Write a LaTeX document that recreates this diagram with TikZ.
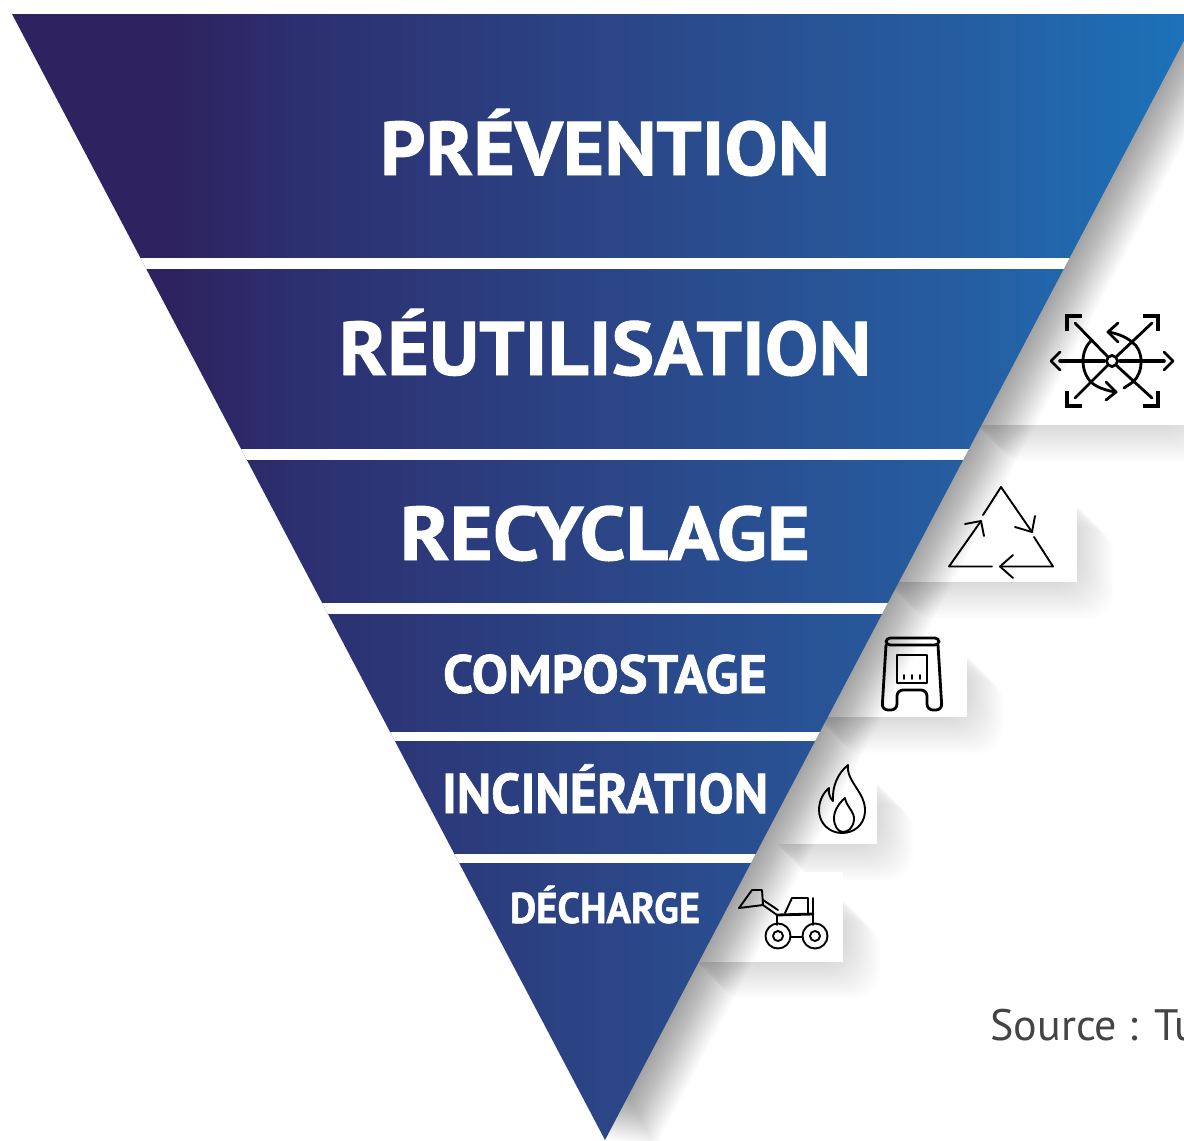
\documentclass[tikz,border=0pt]{standalone}
\usepackage{fontspec}
\usepackage{graphicx}
\setmainfont{PT Sans}
\definecolor{srcgray}{HTML}{444444}
\definecolor{c0}{HTML}{2E2360}
\definecolor{c1}{HTML}{2C2F70}
\definecolor{c2}{HTML}{2B4586}
\definecolor{c3}{HTML}{255FA3}
\definecolor{c4}{HTML}{1B73BA}
\pgfdeclarehorizontalshading{triband}{100bp}{
  color(0bp)=(c0); color(25bp)=(c0); color(32bp)=(c0); color(37bp)=(c1); color(50bp)=(c2); color(66bp)=(c3); color(75bp)=(c4); color(100bp)=(c4)}
\tikzset{
  x=0.5pt,y=-0.5pt,
  icon/.style={draw=black,line width=0.95pt,line join=round,line cap=round,fill=none},
  iconthick/.style={icon,line width=1.4pt},
  bracket/.style={draw=black,line width=1.9pt,line cap=butt,miter limit=10},
  label/.style={anchor=base,text=white,inner sep=0pt,outer sep=0pt,font=\bfseries},
  card/.style={fill=white,draw=none},
  cardshade/.style={fill=black,opacity=0.008,rounded corners=14pt},
}
\newcommand{\lbl}[5]{\node[label] (#1) at (605,#2) {\resizebox{#3pt}{\height}{\fontsize{#4}{#4}\selectfont\addfontfeature{FakeBold=1.2}#5}};}
\begin{document}
\begin{tikzpicture}
\path[use as bounding box] (0,0) rectangle (1184,1141);
\clip (0,0) rectangle (1184,1141);
\fill[white] (0,0) rectangle (1184,1141);
% card shadows
\foreach \d in {1,3,...,37}{
  \fill[cardshade] ([shift={(\d,\d)}]960,310) rectangle ([shift={(\d,\d)}]1184,425);
  \fill[cardshade] ([shift={(\d,\d)}]870,490) rectangle ([shift={(\d,\d)}]1077,582);
  \fill[cardshade] ([shift={(\d,\d)}]800,640) rectangle ([shift={(\d,\d)}]967,717);
  \fill[cardshade] ([shift={(\d,\d)}]760,767) rectangle ([shift={(\d,\d)}]877,844);
  \fill[cardshade] ([shift={(\d,\d)}]680,884) rectangle ([shift={(\d,\d)}]843,962);
}
% cards
\fill[card] (960,298) rectangle (1184,425);
\fill[card] (870,477) rectangle (1077,582);
\fill[card] (800,628) rectangle (967,717);
\fill[card] (760,755) rectangle (877,844);
\fill[card] (680,872) rectangle (843,962);
% triangle shadow
\foreach \d in {2,4,...,50}{
  \fill[black,opacity=0.014] ([shift={(\d,0.15*\d)}]12,14) -- ([shift={(\d,0.15*\d)}]1198,14) -- ([shift={(\d,0.15*\d)}]605,1140) -- cycle;
}
% triangle with bands
\begin{scope}
\clip (12,14) -- (1198,14) -- (605,1140) -- cycle;
\shade[shading=triband] (12,14) rectangle (1198,1141);
\fill[white] (0,258) rectangle (1184,269);
\fill[white] (0,449) rectangle (1184,460);
\fill[white] (0,603) rectangle (1184,614);
\fill[white] (0,732) rectangle (1184,741);
\fill[white] (0,854) rectangle (1184,863);
\end{scope}
% labels
\lbl{prev}{175}{225}{38}{PRÉVENTION}
\lbl{reut}{375}{266}{38}{RÉUTILISATION}
\lbl{recy}{560}{205}{38}{RECYCLAGE}
\lbl{comp}{693}{162}{27}{COMPOSTAGE}
\lbl{inci}{813}{163}{28}{INCINÉRATION}
\lbl{dech}{923}{95}{21.5}{DÉCHARGE}
% source
\node[anchor=base west,inner sep=0pt,text=srcgray,font=\fontsize{22}{23}\selectfont] (src) at (990,1040) {Source : Tu};
% icon reutilisation
\draw[iconthick,line width=1.8pt] (1060,361) -- (1104,361) (1120,361) -- (1164,361);
\draw[iconthick] (1060,352) -- (1051,361) -- (1060,370);
\draw[iconthick] (1164,352) -- (1173,361) -- (1164,370);
\draw[iconthick] (1075,323) -- (1107,356) (1117,366) -- (1152,398);
\draw[iconthick] (1152,323) -- (1117,356) (1107,366) -- (1075,398);
\draw[iconthick] (1112,361) circle (5.5);
\draw[iconthick] (1092,340) .. controls (1080,350) and (1080,372) .. (1092,383);
\draw[iconthick] (1132,342) .. controls (1144,350) and (1144,372) .. (1133,382);
\draw[iconthick] (1108,332) .. controls (1115,333) and (1125,336) .. (1132,342);
\draw[iconthick] (1118,323) -- (1108,332) -- (1118,342);
\draw[iconthick] (1092,383) .. controls (1098,388) and (1108,391) .. (1116,392);
\draw[iconthick] (1106,382) -- (1116,392) -- (1106,400);
\draw[iconthick] (1124,388) -- (1133,382);
\draw[bracket] (1067,331) -- (1067,316) -- (1082,316);
\draw[bracket] (1143,316) -- (1158,316) -- (1158,331);
\draw[bracket] (1067,391) -- (1067,406) -- (1082,406);
\draw[bracket] (1143,406) -- (1158,406) -- (1158,391);
% icon recyclage
\draw[icon] (983,515) -- (1001,487) -- (1032,532);
\draw[icon] (1015,527) -- (1032,532) -- (1035,516);
\draw[icon] (1034,537) -- (1053,566.5) -- (1000,566.5);
\draw[icon] (1013,555) -- (1000,566.5) -- (1013,578);
\draw[icon] (992,566.5) -- (949,566.5) -- (981,521);
\draw[icon] (965,524) -- (981,521) -- (984,536);
% icon compostage
\draw[iconthick,rounded corners=2pt] (886,638) rectangle (939,645);
\draw[iconthick,rounded corners=3pt] (886,645) -- (882,710) -- (897,710) -- (897,690) -- (927,690) -- (927,710) -- (942,710) -- (938,645);
\draw[iconthick] (897,655) rectangle (927,683);
\draw[icon] (904,675) -- (904,679) (912,675) -- (912,679) (920,675) -- (920,679);
% icon incineration
\draw[icon] (848,765) .. controls (846,782) and (866,792) .. (865,812) .. controls (864,826) and (853,833) .. (842,833) .. controls (829,833) and (819,823) .. (819,810) .. controls (819,800) and (824,792) .. (829,788) .. controls (828,793) and (830,798) .. (833,801) .. controls (832,786) and (838,773) .. (848,765) -- cycle;
\draw[icon] (845,798) .. controls (846,806) and (855,812) .. (854,820) .. controls (853,828) and (848,832) .. (843,832) .. controls (838,832) and (834,826) .. (834,818) .. controls (834,810) and (840,802) .. (845,798) -- cycle;
% icon decharge
\draw[icon] (752,890) -- (762,890) -- (763,905) -- (739,908) -- cycle;
\draw[icon] (763,900) -- (778,910) (763,905) -- (777,915);
\draw[icon] (785,913) -- (792,898) -- (808,898) -- (808,913);
\draw[iconthick] (777,915) -- (813,914);
\draw[icon] (813,898) -- (813,925) (777,915) -- (777,925);
\draw[icon] (778,936) circle (12.5) (778,936) circle (5);
\draw[icon] (815,936) circle (12.5) (815,936) circle (5);
\draw[icon] (790.5,937) -- (802.5,937);
\end{tikzpicture}
\end{document}
